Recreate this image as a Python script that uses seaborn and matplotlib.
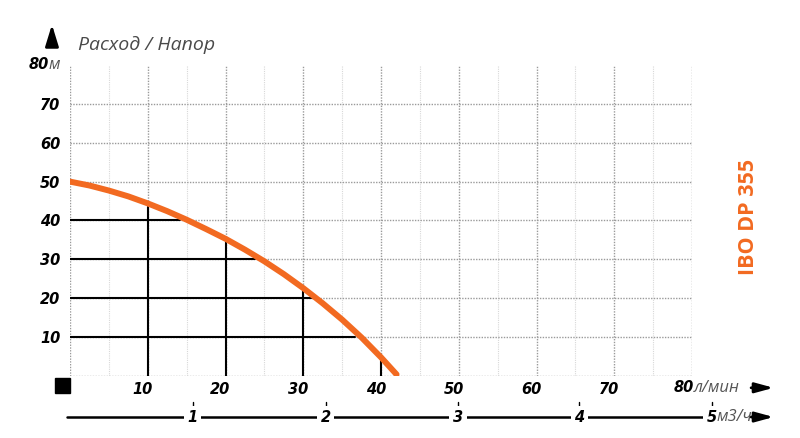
import numpy as np
import pandas as pd
import seaborn as sns
import matplotlib.pyplot as plt
from matplotlib.patches import Rectangle
import matplotlib.transforms as mtransforms

# pump curve (l/min -> m)
flow = [0, 2.5, 5, 7.5, 10, 12.5, 15, 17.5, 20, 22.5, 25, 27.5, 30, 32.5, 35, 37.5, 40, 42]
head = [50, 49.0, 47.7, 46.2, 44.4, 42.4, 40.2, 37.8, 35.3, 32.5, 29.5, 26.2, 22.6, 18.7, 14.5, 9.9, 4.8, 0.4]

# black helper lines
ref_flow = [10, 20, 30, 40]
ref_flow_top = [43.4, 34.5, 21.8, 3.8]
ref_head = [40, 30, 20, 10]
ref_head_end = [14.2, 23.8, 31.3, 36.7]

x_ticks = [0, 10, 20, 30, 40, 50, 60, 70, 80]
x_labels = ['', '10', '20', '30', '40', '50', '60', '70', '']
y_ticks = [0, 10, 20, 30, 40, 50, 60, 70, 80]
y_labels = ['', '10', '20', '30', '40', '50', '60', '70', '']
m3h_labels = ['1', '2', '3', '4']
m3h_pos = [15.8, 32.9, 49.9, 65.5]
m3h_last_pos = 82.6

orange = '#F26A21'
fam = ['Open Sans', 'DejaVu Sans']
num_font = dict(family='DejaVu Sans', weight='bold', style='oblique', size=10.5, color='black')
unit_font = dict(family=fam, style='italic', size=12, color='#555555')

sns.set_style('white')
plt.rcParams['font.family'] = fam

fig = plt.figure(figsize=(8, 4.38), dpi=100)
ax = fig.add_axes([0.0875, 0.1416, 0.7775, 0.71])

df = pd.DataFrame({'flow': flow, 'head': head})

# helper lines
for x, top in zip(ref_flow, ref_flow_top):
    ax.plot([x, x], [0, top], color='black', lw=1.5, zorder=2)
for y, end in zip(ref_head, ref_head_end):
    ax.plot([0, end], [y, y], color='black', lw=1.5, zorder=2)

sns.lineplot(data=df, x='flow', y='head', color=orange, lw=4.3, ax=ax, zorder=3)

ax.set_xlim(0, 80)
ax.set_ylim(0, 80)
ax.set_xticks(x_ticks)
ax.set_xticklabels(x_labels, fontdict=num_font)
ax.set_yticks(y_ticks)
ax.set_yticklabels(y_labels, fontdict=num_font)
ax.set_xticks(np.arange(5, 80, 10), minor=True)
ax.tick_params(length=0, which='both', labelcolor='black')
ax.tick_params(axis='x', pad=4)
ax.tick_params(axis='y', pad=7)
ax.set_xlabel('')
ax.set_ylabel('')

# italic labels sit a little left of their ticks in the reference
shift = mtransforms.ScaledTranslation(-5 / 100, 0, fig.dpi_scale_trans)
for lbl in ax.get_xticklabels():
    lbl.set_transform(lbl.get_transform() + shift)

ax.grid(True, which='major', color='#9a9a9a', lw=1, linestyle=(0, (1, 1)))
ax.grid(True, which='minor', axis='x', color='#d8d8d8', lw=0.8, linestyle=(0, (1, 1)))
ax.yaxis.get_gridlines()[-1].set_visible(False)
for s in ax.spines.values():
    s.set_visible(False)

trans_xa = mtransforms.blended_transform_factory(ax.transData, ax.transAxes)
trans_ad = mtransforms.blended_transform_factory(ax.transAxes, ax.transData)

# 80 м on y axis
ax.text(-0.034, 80, '80', transform=trans_ad, ha='right', va='center', **num_font)
ax.text(-0.034, 80, 'м', transform=trans_ad, ha='left', va='center', **unit_font)
# 80 л/мин on x axis
ax.text(80.2, -0.038, '80', transform=trans_xa, ha='right', va='center', **num_font)
ax.text(80.2, -0.038, 'л/мин', transform=trans_xa, ha='left', va='center', **unit_font)

# title at top
ax.text(0.013, 1.064, 'Расход / Напор', transform=ax.transAxes, ha='left', va='center',
        family=fam, style='italic', size=14, color='#4a4a4a')

# arrows
arrow = dict(arrowstyle='-|>,head_length=1.1,head_width=0.3', color='black', lw=2,
             shrinkA=0, shrinkB=0)
up_arrow = dict(arrowstyle='-|>,head_length=1.3,head_width=0.4', color='black', lw=2,
                shrinkA=0, shrinkB=0)
ax.annotate('', xy=(-0.029, 1.13), xytext=(-0.029, 1.07), xycoords='axes fraction',
            arrowprops=up_arrow)
ax.annotate('', xy=(90.5, -0.038), xytext=(87.6, -0.038), xycoords=trans_xa,
            arrowprops=arrow)
ax.annotate('', xy=(90.5, -0.132), xytext=(87.6, -0.132), xycoords=trans_xa,
            arrowprops=arrow)

# black square at origin
ax.add_patch(Rectangle((-0.0241, -0.0537), 0.0241, 0.048, transform=ax.transAxes,
                       color='black', clip_on=False))

# m3/h scale
ax.plot([-0.4, 81.4], [-0.132, -0.132], transform=trans_xa, color='black', lw=1.8,
        clip_on=False)
for pos, lab in zip(m3h_pos, m3h_labels):
    ax.text(pos, -0.132, lab, transform=trans_xa, ha='center', va='center',
            bbox=dict(facecolor='white', edgecolor='none', pad=2.5), **num_font)
    ax.plot([pos, pos], [-0.083, -0.103], transform=trans_xa, color='black', lw=1,
            clip_on=False)
ax.plot([m3h_last_pos, m3h_last_pos], [-0.083, -0.103], transform=trans_xa,
        color='black', lw=1, clip_on=False)
ax.text(m3h_last_pos + 0.6, -0.132, '5', transform=trans_xa, ha='right', va='center',
        bbox=dict(facecolor='white', edgecolor='none', pad=2.5), **num_font)
ax.text(m3h_last_pos + 0.6, -0.132, 'м3/ч', transform=trans_xa, ha='left', va='center',
        **unit_font)

# model name
fig.text(0.935, 0.5046, 'IBO DP 355', rotation=90, ha='center', va='center',
         color=orange, weight='bold', size=15.5, family=fam)

fig.savefig('out.png', dpi=100)
